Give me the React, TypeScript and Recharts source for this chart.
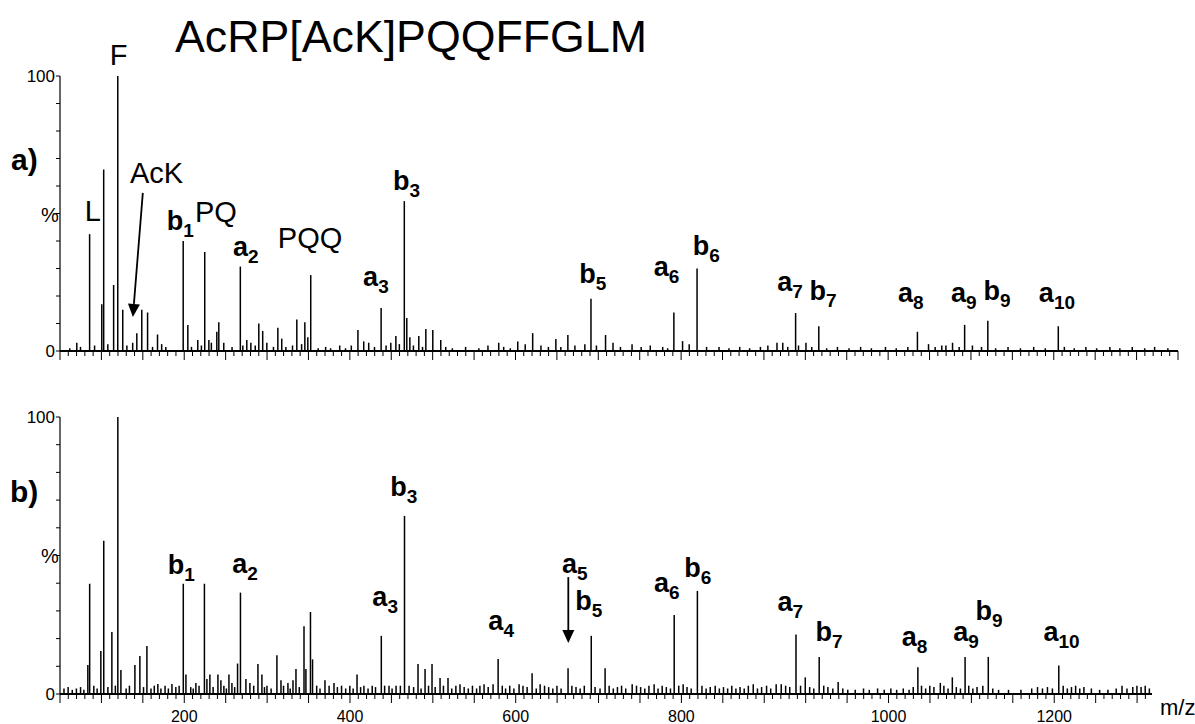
import React from 'react';
import { ComposedChart, Bar, XAxis, YAxis, ReferenceDot, ReferenceLine } from 'recharts';

const FONT = '"Liberation Sans", Arial, Helvetica, sans-serif';

// [m/z, relative intensity %] read off panel a)
const peaksA: [number, number][] = [
  [70.5, 3], [86, 42.5], [100.7, 17], [103, 66], [115, 24], [120, 100], [126, 15], [143, 6.5],
  [149, 15], [156, 14], [168, 6], [199, 40], [204.6, 9.5], [216.6, 4], [225, 36], [230, 4],
  [239.6, 7], [242, 10.5], [268, 30.7], [275.8, 4], [280.7, 3], [290.3, 10], [295, 7.3],
  [313.3, 8.5], [318, 4.5], [336.2, 11.5], [345.9, 10.5], [349.5, 5], [353, 27.6], [388, 2],
  [410, 7.6], [423, 3], [438, 15.6], [449.7, 3], [455.8, 5.5], [466, 54.5], [469, 12],
  [472.7, 5], [483.5, 5.5], [492, 8], [500.4, 7.6], [510, 4], [580, 3], [603, 3.5], [621, 6.5],
  [631, 2], [649, 4.4], [663.5, 5.8], [691.4, 19], [709, 5.8], [741, 2.5], [791.5, 14],
  [802, 3.6], [819.5, 30], [916, 3], [923, 3], [938.5, 13.8], [951, 3], [966.5, 9],
  [1085.6, 7], [1115, 2], [1128, 3], [1142.6, 9.5], [1170.6, 11], [1255.7, 9],
];

// small baseline spikes, panel a)
const noiseA: [number, number][] = [
  [62, 1], [75, 1.5], [92, 2], [108, 2.5], [131, 2], [138, 3], [162, 1.5], [173, 2.5], [178, 1.5],
  [209, 1.5], [221, 2], [233, 3], [248, 3], [258, 1.5], [271, 2], [286, 2], [300, 3], [308, 1.5],
  [323, 1.5], [331, 2], [342, 2.5], [362, 1], [371, 1.5], [377, 1], [395, 1], [402, 2], [417, 3.5],
  [430, 1.5], [444, 2], [460, 2.5], [477, 2], [488, 1.5], [516, 1.5], [524, 1], [540, 1.5],
  [556, 1], [567, 2], [586, 1.5], [594, 1], [612, 2.5], [640, 1.5], [655, 1.5], [672, 2],
  [684, 2.5], [698, 2], [718, 3], [727, 1.5], [752, 1.5], [763, 2], [778, 1.5], [784, 1],
  [810, 2.5], [831, 1.5], [846, 1.5], [858, 1], [871, 1.5], [883, 1], [896, 1.5], [905, 2],
  [929, 1.5], [942, 2], [958, 1.5], [976, 1], [989, 1.5], [1003, 1], [1017, 1.5], [1030, 1],
  [1047, 1.5], [1060, 1], [1074, 1.5], [1099, 2.5], [1107, 1.5], [1120, 2], [1136, 1.5],
  [1152, 2], [1163, 1.5], [1180, 1], [1195, 1.5], [1210, 1], [1226, 1.5], [1240, 1], [1263, 1.5],
  [1275, 1], [1289, 1.5], [1302, 1], [1318, 1.5], [1330, 1], [1345, 1.5], [1360, 1], [1372, 1.5],
  [1388, 1],
];

// [m/z, relative intensity %] read off panel b)
const peaksB: [number, number][] = [
  [83.8, 10.5], [86, 39.8], [99.5, 15.5], [103, 55.3], [112.8, 22.4], [120, 100], [123.7, 8.7],
  [140.6, 10.5], [146.6, 13.7], [155.1, 17.3], [168.3, 3.6], [185.3, 3.6], [199, 39.8],
  [202.2, 7], [214.2, 4], [224.5, 39.8], [227.5, 5.4], [231.1, 7], [240.8, 7], [244.4, 5],
  [254.1, 7], [257.7, 4], [264.5, 11], [268, 36.6], [274.6, 5.4], [279.4, 4], [289.1, 10.8],
  [293.9, 7], [312, 14], [316.9, 5], [325.3, 4], [331.4, 5], [335, 9], [344.7, 24.5], [347, 9],
  [352.5, 29.6], [355, 12.5], [370, 5], [380.9, 4], [408.7, 7], [438, 21], [447.3, 3],
  [455.8, 3], [466, 64.3], [471.5, 3], [482.3, 10.8], [490.8, 9], [499.2, 10.8], [508.9, 5.8],
  [518.5, 5.8], [533, 3.5], [562, 3.5], [572.9, 3.5], [579, 12.6], [604.3, 3.5], [620, 7.5],
  [629.7, 3.5], [663.4, 9.3], [691.4, 21], [708.1, 9.3], [740.8, 3.5], [767.3, 3.5],
  [791.5, 28.5], [802.3, 3.5], [819.5, 37.2], [886.9, 3.5], [914.6, 3.5], [920.7, 3.5],
  [938.5, 21.5], [949.7, 6], [966.5, 13.4], [989.4, 4.3], [1085.6, 9.7], [1112.7, 4],
  [1127.2, 6], [1142.6, 13.4], [1170.6, 13.4], [1255.7, 10.3],
];

// small baseline spikes, panel b)
const noiseB: [number, number][] = [
  [55, 2], [60, 2.5], [65, 1.5], [70, 2], [75, 2.5], [79, 1.5], [91, 3], [95, 2], [108, 2.5],
  [117, 3], [130, 2], [134, 3], [151, 2.5], [160, 2], [164, 3], [172, 2], [177, 3], [181, 2],
  [190, 2.5], [194, 3], [208, 2.5], [211, 2], [218, 3], [235, 2.5], [248, 3], [251, 2],
  [261, 2.5], [284, 3], [297, 2.5], [300, 3], [305, 2], [320, 3], [328, 2], [339, 2.5], [360, 3],
  [364, 2], [375, 3], [385, 2.5], [390, 3], [395, 2], [400, 3], [404, 2], [413, 2.5], [417, 3],
  [422, 2], [427, 3], [431, 2.5], [442, 3], [451, 2], [461, 3], [477, 2.5], [486, 2], [495, 3],
  [503, 2.5], [513, 3], [523, 2], [528, 3], [538, 2.5], [543, 2], [548, 3], [553, 2], [557, 3],
  [567, 2.5], [584, 3], [588, 2], [593, 3], [598, 2], [609, 3], [614, 2.5], [625, 2], [635, 3],
  [640, 2.5], [645, 2], [650, 3], [655, 2], [668, 3], [673, 2.5], [678, 2], [683, 3], [696, 2.5],
  [702, 2], [713, 3], [718, 2], [723, 2.5], [728, 3], [733, 2], [746, 3], [751, 2.5], [756, 2],
  [761, 3], [772, 2], [777, 3], [782, 2.5], [787, 2], [797, 3], [807, 2.5], [812, 2], [825, 3],
  [830, 2], [835, 2.5], [841, 3], [846, 2], [851, 2.5], [856, 2], [861, 3], [866, 2], [871, 2.5],
  [876, 2], [881, 3], [892, 2], [897, 2.5], [903, 3], [908, 2], [926, 3], [931, 2.5], [944, 3],
  [955, 2.5], [960, 2], [972, 3], [977, 2.5], [983, 2], [995, 2], [1001, 1.5], [1010, 1.5],
  [1020, 2], [1027, 1.5], [1037, 2], [1045, 1.5], [1053, 2], [1060, 1.5], [1068, 2], [1075, 1.5],
  [1080, 2.5], [1090, 3], [1095, 2], [1100, 3], [1105, 2.5], [1117, 3], [1122, 2], [1132, 2.5],
  [1137, 2], [1147, 3], [1152, 2], [1157, 2.5], [1164, 3], [1176, 2], [1183, 1.5], [1195, 1.5],
  [1210, 1.5], [1223, 2], [1230, 2.5], [1236, 2], [1242, 2.5], [1248, 2], [1261, 3], [1266, 2],
  [1271, 2.5], [1276, 3], [1281, 2], [1286, 2.5], [1295, 2], [1305, 1.5], [1315, 1.5], [1325, 2],
  [1332, 3], [1338, 2], [1345, 2.5], [1350, 3], [1355, 2.5], [1360, 3], [1365, 2],
];

// fragment-ion labels: [ion letter, index, m/z of left edge, % of baseline]
const ionsA: [string, string, number, number][] = [
  ['b', '1', 179, 44], ['a', '2', 259, 34.5], ['a', '3', 416, 23.6], ['b', '3', 452, 58.5],
  ['b', '5', 677, 24.7], ['a', '6', 767, 27.3], ['b', '6', 814, 35], ['a', '7', 916, 21.8],
  ['b', '7', 955, 18.5], ['a', '8', 1062, 17.8], ['a', '9', 1126, 17.8], ['b', '9', 1165, 18.5],
  ['a', '10', 1232, 17.8],
];
const ionsB: [string, string, number, number][] = [
  ['b', '1', 180, 43.3], ['a', '2', 258, 43.7], ['a', '3', 427, 31.8], ['b', '3', 448.5, 71.5],
  ['a', '4', 567, 23.1], ['a', '5', 656, 43.7], ['b', '5', 672, 30.3], ['a', '6', 767, 36.8],
  ['b', '6', 803.5, 42.2], ['a', '7', 916, 30], ['b', '7', 962, 19.1], ['a', '8', 1066, 17.3],
  ['a', '9', 1128, 19.1], ['b', '9', 1155, 26.7], ['a', '10', 1237, 19.1],
];
// immonium / internal fragment names, panel a)
const namesA: [string, number, number][] = [
  ['F', 110, 104], ['L', 80, 47.3], ['AcK', 134.5, 61], ['PQ', 213, 47], ['PQQ', 313, 37.5],
];
// arrows: [from m/z, from %, to m/z, to %]
const arrowA: [number, number, number, number] = [150, 57.5, 138, 12.4];
const arrowB: [number, number, number, number] = [663.5, 42.2, 663.5, 18.4];

const yTicks = [0, 10, 20, 30, 40, 50, 60, 70, 80, 90, 100];
// the printed figure sets its 1000 and 1200 labels one major tick to the right; keep that
const xLabelTicks = [200, 400, 600, 800, 1050, 1250];
const xLabelTexts = ['200', '400', '600', '800', '1000', '1200'];

const toRows = (...lists: [number, number][][]) =>
  lists.flat().map(([mz, pct]) => ({ mz, pct })).sort((a, b) => a.mz - b.mz);

const stepTicks = (max: number) => {
  const t: number[] = [];
  for (let v = 50; v <= max; v += 10) t.push(v);
  return t;
};

function XTick(props: any) {
  const { x, y, payload, labels } = props;
  const v = payload.value;
  const major = v % 50 === 0;
  const idx = labels ? xLabelTicks.indexOf(v) : -1;
  return (
    <g>
      <line x1={x} x2={x} y1={y} y2={y + (major ? 9 : 5)} stroke="#000" strokeWidth={1} />
      {idx >= 0 && (
        <text x={x} y={y + 28} textAnchor="middle" fontSize={16} fontFamily={FONT} fill="#000">
          {xLabelTexts[idx]}
        </text>
      )}
    </g>
  );
}

function YTick(props: any) {
  const { x, y, payload } = props;
  const v = payload.value;
  return (
    <g>
      <line x1={x - 4} x2={x} y1={y} y2={y} stroke="#000" strokeWidth={1} />
      {(v === 0 || v === 100) && (
        <text x={x - 5} y={y + 6} textAnchor="end" fontSize={17} fontFamily={FONT} fill="#000">
          {v}
        </text>
      )}
    </g>
  );
}

function IonText(props: any) {
  const { viewBox, text, sub, bold } = props;
  const x = viewBox.x + (viewBox.width || 0) / 2;
  const y = viewBox.y + (viewBox.height || 0) / 2;
  if (!bold) {
    return (
      <text x={x} y={y} fontSize={29} fontFamily={FONT} fill="#000">
        {text}
      </text>
    );
  }
  return (
    <text x={x} y={y} fontSize={27} fontWeight="bold" fontFamily={FONT} fill="#000">
      {text}
      <tspan fontSize={19} dy={7}>
        {sub}
      </tspan>
    </text>
  );
}

function Arrow(props: any) {
  const { x1, y1, x2, y2 } = props;
  const dx = x2 - x1;
  const dy = y2 - y1;
  const len = Math.hypot(dx, dy) || 1;
  const ux = dx / len;
  const uy = dy / len;
  const hl = 13;
  const hw = 6;
  const bx = x2 - ux * hl;
  const by = y2 - uy * hl;
  return (
    <g>
      <line x1={x1} y1={y1} x2={bx} y2={by} stroke="#000" strokeWidth={1.8} />
      <polygon
        points={`${x2},${y2} ${bx - uy * hw},${by + ux * hw} ${bx + uy * hw},${by - ux * hw}`}
        fill="#000"
      />
    </g>
  );
}

function Panel(p: {
  rows: { mz: number; pct: number }[];
  ions: [string, string, number, number][];
  names: [string, number, number][];
  arrow: [number, number, number, number];
  xMax: number;
  top: number;
  height: number;
  marginTop: number;
  right: number;
  axisH: number;
  labels: boolean;
}) {
  return (
    <div style={{ position: 'absolute', left: 0, top: p.top }}>
      <ComposedChart
        width={1195}
        height={p.height}
        data={p.rows}
        margin={{ top: p.marginTop, right: p.right, bottom: 0, left: 0 }}
      >
        <XAxis
          dataKey="mz"
          type="number"
          domain={[50, p.xMax]}
          allowDataOverflow
          ticks={stepTicks(p.xMax)}
          interval={0}
          tickSize={0}
          tickMargin={0}
          tick={<XTick labels={p.labels} />}
          axisLine={{ stroke: '#000', strokeWidth: 2 }}
          height={p.axisH}
        />
        <YAxis
          type="number"
          domain={[0, 100]}
          allowDataOverflow
          ticks={yTicks}
          interval={0}
          tickSize={0}
          tickMargin={0}
          tick={<YTick />}
          axisLine={{ stroke: '#000', strokeWidth: 1.2 }}
          width={60}
        />
        <Bar dataKey="pct" barSize={1.5} fill="#000" isAnimationActive={false} />
        {p.ions.map(([t, s, mz, pct]) => (
          <ReferenceDot
            key={t + s}
            x={mz}
            y={pct}
            r={0}
            ifOverflow="visible"
            stroke="none"
            label={<IonText text={t} sub={s} bold />}
          />
        ))}
        {p.names.map(([t, mz, pct]) => (
          <ReferenceDot
            key={t}
            x={mz}
            y={pct}
            r={0}
            ifOverflow="visible"
            stroke="none"
            label={<IonText text={t} />}
          />
        ))}
        <ReferenceLine
          segment={[
            { x: p.arrow[0], y: p.arrow[1] },
            { x: p.arrow[2], y: p.arrow[3] },
          ]}
          ifOverflow="visible"
          stroke="#000"
          strokeWidth={1.8}
          shape={<Arrow />}
        />
      </ComposedChart>
    </div>
  );
}

export default function App() {
  return (
    <div
      style={{
        position: 'absolute',
        left: 0,
        top: 0,
        width: 1195,
        height: 724,
        background: '#fff',
        overflow: 'hidden',
      }}
    >
      <Panel
        rows={toRows(peaksA, noiseA)}
        ions={ionsA}
        names={namesA}
        arrow={arrowA}
        xMax={1400}
        top={0}
        height={370}
        marginTop={76}
        right={17}
        axisH={19}
        labels={false}
      />
      <Panel
        rows={toRows(peaksB, noiseB)}
        ions={ionsB}
        names={[]}
        arrow={arrowB}
        xMax={1368}
        top={380}
        height={344}
        marginTop={37}
        right={43}
        axisH={30}
        labels
      />
      <svg
        width={1195}
        height={724}
        style={{ position: 'absolute', left: 0, top: 0, pointerEvents: 'none' }}
      >
        <text x={175} y={52} fontSize={44} fontFamily={FONT} fill="#000" textLength={472} lengthAdjust="spacingAndGlyphs">
          AcRP[AcK]PQQFFGLM
        </text>
        <text x={11} y={170} fontSize={30} fontWeight="bold" fontFamily={FONT} fill="#000">
          a)
        </text>
        <text x={10} y={502} fontSize={30} fontWeight="bold" fontFamily={FONT} fill="#000">
          b)
        </text>
        <text x={41} y={222} fontSize={20} fontFamily={FONT} fill="#000">
          %
        </text>
        <text x={41} y={563} fontSize={20} fontFamily={FONT} fill="#000">
          %
        </text>
        <text x={1160} y={715} fontSize={22} fontFamily={FONT} fill="#000">
          m/z
        </text>
      </svg>
    </div>
  );
}
